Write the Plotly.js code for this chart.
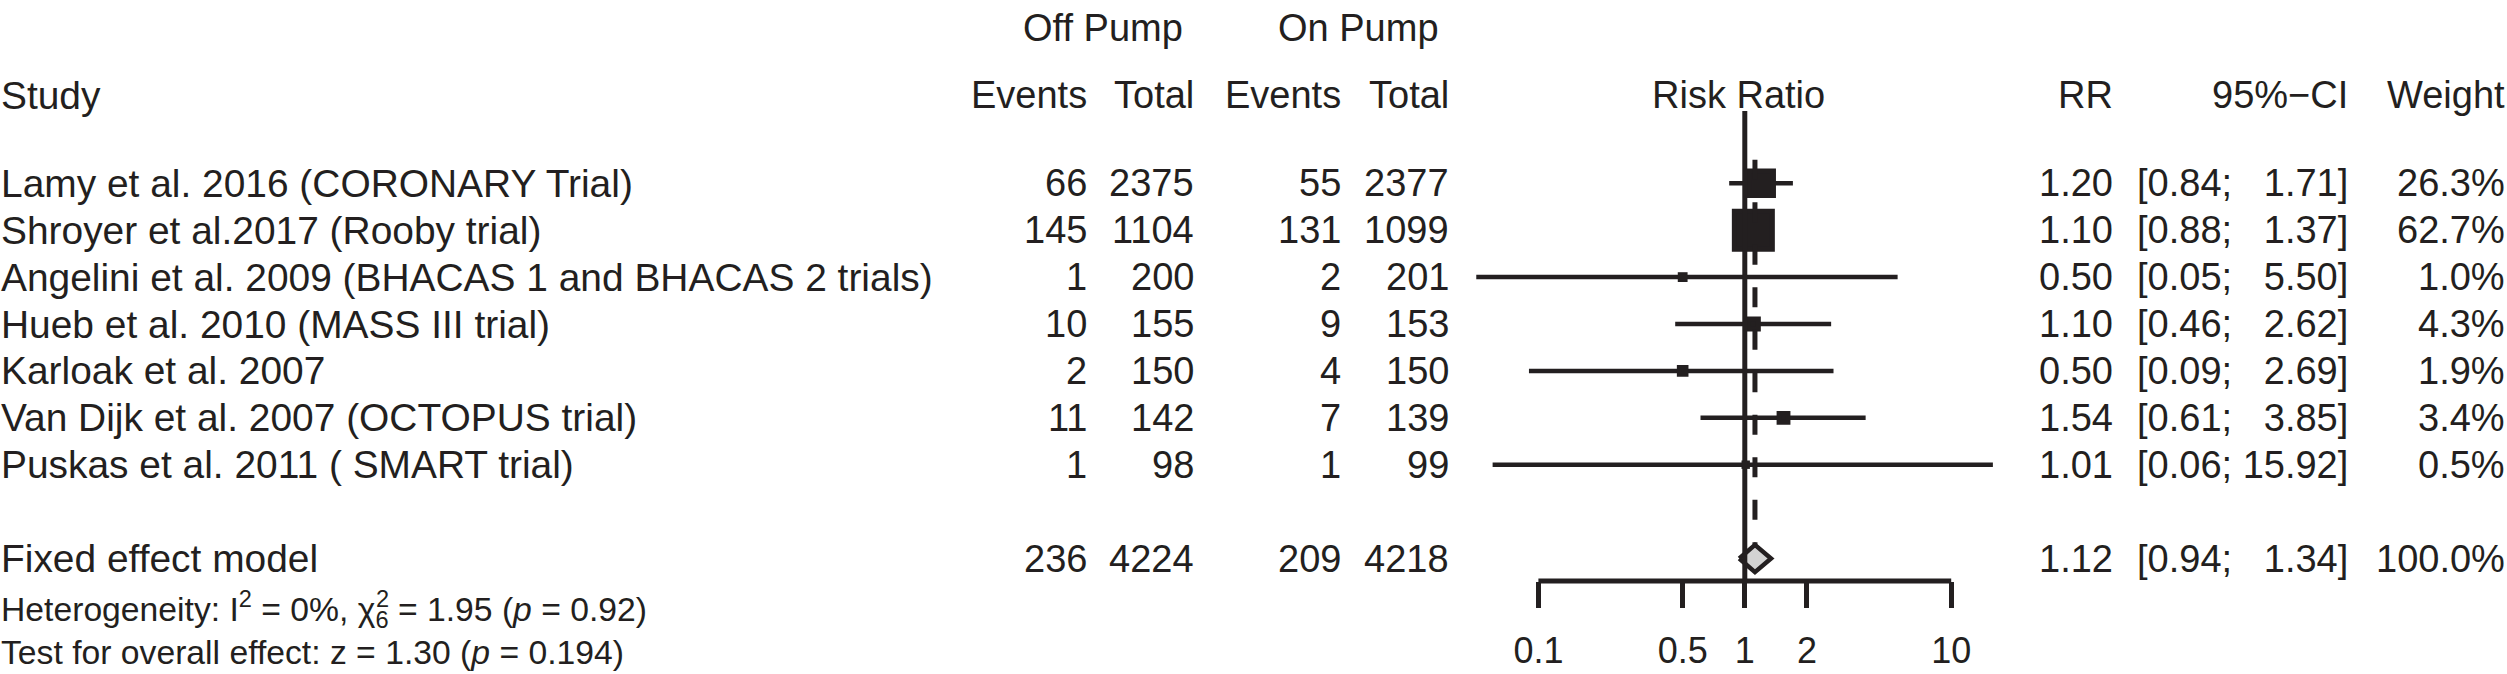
<!DOCTYPE html>
<html>
<head>
<meta charset="utf-8">
<script src="https://cdn.plot.ly/plotly-3.0.1.min.js"></script>
<style>
  html, body { margin: 0; padding: 0; background: #ffffff; }
  #chart { width: 2507px; height: 674px; }
</style>
</head>
<body>
<div id="chart"></div>
<script>
// ---------------- data ----------------
const studies = [
  'Lamy et al. 2016 (CORONARY Trial)',
  'Shroyer et al.2017 (Rooby trial)',
  'Angelini et al. 2009 (BHACAS 1 and BHACAS 2 trials)',
  'Hueb et al. 2010 (MASS III trial)',
  'Karloak et al. 2007',
  'Van Dijk et al. 2007 (OCTOPUS trial)',
  'Puskas et al. 2011 ( SMART trial)'
];
const offEvents = [66, 145, 1, 10, 2, 11, 1];
const offTotal  = [2375, 1104, 200, 155, 150, 142, 98];
const onEvents  = [55, 131, 2, 9, 4, 7, 1];
const onTotal   = [2377, 1099, 201, 153, 150, 139, 99];
const rr        = [1.20, 1.10, 0.50, 1.10, 0.50, 1.54, 1.01];
const ciLow     = [0.84, 0.88, 0.05, 0.46, 0.09, 0.61, 0.06];
const ciHigh    = [1.71, 1.37, 5.50, 2.62, 2.69, 3.85, 15.92];
const weights   = [26.3, 62.7, 1.0, 4.3, 1.9, 3.4, 0.5];

const pooledLabel  = 'Fixed effect model';
const pooledCounts = [236, 4224, 209, 4218];
const pooledRR     = 1.12;
const pooledCI     = [0.94, 1.34];
const pooledWeight = 100.0;

const groupLabels  = ['Off Pump', 'On Pump'];
const colHeaders   = ['Study', 'Events', 'Total', 'Events', 'Total', 'Risk Ratio', 'RR', '95%\u2212CI', 'Weight'];
const hetText  = 'Heterogeneity: I<sup>2</sup> = 0%, \u03c7<sub>6</sub> = 1.95 (<i>p</i> = 0.92)';
const hetSup   = '2';
const testText = 'Test for overall effect: z = 1.30 (<i>p</i> = 0.194)';

const tickVals = [0.1, 0.5, 1, 2, 10];
const tickText = ['0.1', '0.5', '1', '2', '10'];

// ---------------- layout helpers ----------------
const W = 2507, H = 674;
const INK = '#231f20';
const FONT = 'Liberation Sans, Arial, Helvetica, sans-serif';
const FS = 38;        // table text size
const FS_L = 38.9;    // study column text size
const FS_H = 33.7;    // heterogeneity text size
const px = v => v / W;

const rows = studies.map((_, i) => i + 1);
const pooledRow = 9;
const headerRow = -0.88;
const groupRow = -2.31;
const hetRow = 10.08;
const testRow = 10.99;
const axisPos = (H - 581) / H;

const NB = '\u00a0';
function ciLabel(lo, hi) {
  const h = hi.toFixed(2);
  return '[' + lo.toFixed(2) + ';' + NB + (h.length < 5 ? NB + NB : '') + h + ']';
}

const annotations = [];
function addText(text, xPix, y, anchor, size) {
  annotations.push({
    text: text, x: px(xPix), xref: 'paper', y: y, yref: 'y',
    xanchor: anchor, yanchor: 'middle', showarrow: false,
    borderpad: 0, borderwidth: 0,
    font: { family: FONT, size: size || FS, color: INK }
  });
}

// column positions (right edges unless noted)
const colX = { study: 1, offEv: 1087, offTot: 1194, onEv: 1341, onTot: 1449, rr: 2113, ci: 2348, w: 2505, rrTitle: 1738 };

// group labels
addText(groupLabels[0], 1103, groupRow, 'center');
addText(groupLabels[1], 1358, groupRow, 'center');
// column headers
addText(colHeaders[0], colX.study, headerRow, 'left', FS_L);
addText(colHeaders[1], colX.offEv, headerRow, 'right');
addText(colHeaders[2], colX.offTot, headerRow, 'right');
addText(colHeaders[3], colX.onEv, headerRow, 'right');
addText(colHeaders[4], colX.onTot, headerRow, 'right');
addText(colHeaders[5], colX.rrTitle, headerRow, 'center');
addText(colHeaders[6], colX.rr, headerRow, 'right');
addText(colHeaders[7], colX.ci, headerRow, 'right');
addText(colHeaders[8], colX.w, headerRow, 'right');

// study rows
studies.forEach((s, i) => {
  const y = rows[i];
  addText(s, colX.study, y, 'left', FS_L);
  addText(String(offEvents[i]), colX.offEv, y, 'right');
  addText(String(offTotal[i]), colX.offTot, y, 'right');
  addText(String(onEvents[i]), colX.onEv, y, 'right');
  addText(String(onTotal[i]), colX.onTot, y, 'right');
  addText(rr[i].toFixed(2), colX.rr, y, 'right');
  addText(ciLabel(ciLow[i], ciHigh[i]), colX.ci, y, 'right');
  addText(weights[i].toFixed(1) + '%', colX.w, y, 'right');
});

// pooled row
addText(pooledLabel, colX.study, pooledRow, 'left', FS_L);
addText(String(pooledCounts[0]), colX.offEv, pooledRow, 'right');
addText(String(pooledCounts[1]), colX.offTot, pooledRow, 'right');
addText(String(pooledCounts[2]), colX.onEv, pooledRow, 'right');
addText(String(pooledCounts[3]), colX.onTot, pooledRow, 'right');
addText(pooledRR.toFixed(2), colX.rr, pooledRow, 'right');
addText(ciLabel(pooledCI[0], pooledCI[1]), colX.ci, pooledRow, 'right');
addText(pooledWeight.toFixed(1) + '%', colX.w, pooledRow, 'right');

// heterogeneity / test
addText(hetText, colX.study, hetRow, 'left', FS_H);
addText(testText, colX.study, testRow, 'left', FS_H);

// ---------------- traces ----------------
const ciX = [], ciY = [];
rows.forEach((r, i) => { ciX.push(ciLow[i], ciHigh[i], null); ciY.push(r, r, null); });

const wMax = Math.max(...weights);
const traces = [
  {
    type: 'scatter', mode: 'lines', x: ciX, y: ciY,
    line: { color: INK, width: 4.5 }, hoverinfo: 'skip', showlegend: false
  },
  {
    type: 'scatter', mode: 'markers', x: rr, y: rows,
    marker: {
      symbol: 'square', color: INK, opacity: 1,
      size: weights.map(w => 38 * Math.sqrt(w / wMax)),
      line: { color: INK, width: 5 }
    },
    showlegend: false
  },
  {
    type: 'scatter', mode: 'lines',
    x: [pooledCI[0], pooledRR, pooledCI[1], pooledRR, pooledCI[0]],
    y: [pooledRow, pooledRow - 0.29, pooledRow, pooledRow + 0.29, pooledRow],
    fill: 'toself', fillcolor: '#d3d3d3',
    line: { color: INK, width: 4.5 }, showlegend: false
  }
];

// ---------------- layout ----------------
const layout = {
  width: W, height: H,
  margin: { l: 0, r: 0, t: 0, b: 0 },
  paper_bgcolor: '#ffffff', plot_bgcolor: 'rgba(0,0,0,0)',
  showlegend: false,
  xaxis: {
    type: 'log', range: [-8.4535, 3.6928], domain: [0, 1],
    anchor: 'free', position: axisPos, side: 'bottom',
    showgrid: false, zeroline: false, showline: false,
    tickmode: 'array', tickvals: tickVals, ticktext: tickText,
    ticks: 'outside', ticklen: 26, tickwidth: 5, tickcolor: INK,
    ticklabelstandoff: 12,
    tickfont: { family: FONT, size: 36, color: INK },
    fixedrange: true
  },
  yaxis: {
    range: [11.4627, -2.9083], domain: [0, 1], visible: false, fixedrange: true
  },
  shapes: [
    { type: 'line', xref: 'x', yref: 'paper', x0: tickVals[0], x1: tickVals[tickVals.length - 1],
      y0: axisPos, y1: axisPos, line: { color: INK, width: 5 } },
    { type: 'line', xref: 'x', yref: 'paper', x0: 1, x1: 1,
      y0: axisPos, y1: 1 - 111 / H, line: { color: INK, width: 5 } },
    { type: 'line', xref: 'x', yref: 'y', x0: pooledRR, x1: pooledRR,
      y0: 0.5, y1: pooledRow - 0.3, line: { color: INK, width: 5, dash: '20px,22.5px' } }
  ],
  annotations: annotations
};

Plotly.newPlot('chart', traces, layout, { displayModeBar: false, staticPlot: true }).then(gd => {
  // stack the chi-square superscript above its subscript, as in the reference
  let hetEl = null;
  gd.querySelectorAll('.annotation-text').forEach(t => {
    if (t.textContent.indexOf('Heterogeneity') === 0) hetEl = t;
  });
  if (!hetEl) return;
  const tspans = Array.from(hetEl.querySelectorAll('tspan'));
  const supT = tspans.find(t => t.textContent === '2');
  const subT = tspans.find(t => t.textContent === '6');
  if (!supT || !subT) return;
  const base = gd.getBoundingClientRect();
  const rs = supT.getBoundingClientRect();
  const rb = subT.getBoundingClientRect();
  const cx = (rb.left + rb.right) / 2 - base.left;
  const cy = (rs.top + rs.bottom) / 2 - base.top;
  const n = gd.layout.annotations.length;
  const upd = {};
  upd['annotations[' + n + ']'] = {
    text: hetSup, xref: 'paper', yref: 'paper', x: cx / W, y: 1 - cy / H,
    xanchor: 'center', yanchor: 'middle', showarrow: false, borderpad: 0, borderwidth: 0,
    font: { family: FONT, size: FS_H * 0.7, color: INK }
  };
  return Plotly.relayout(gd, upd);
});
</script>
</body>
</html>
